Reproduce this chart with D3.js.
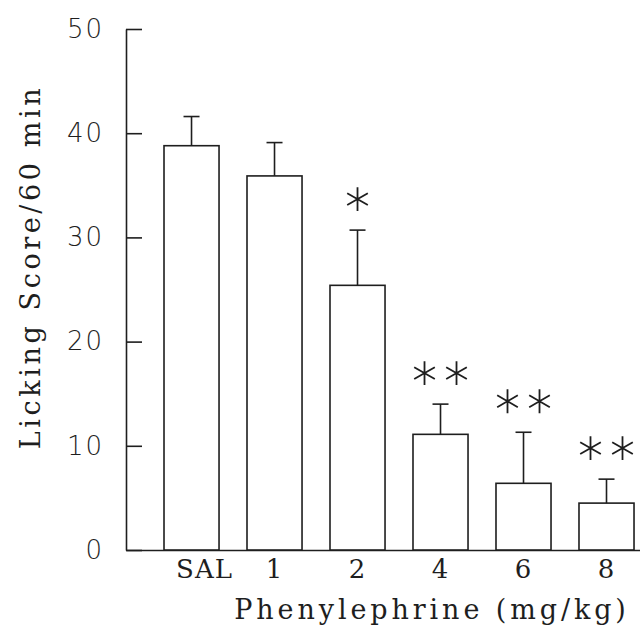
<!DOCTYPE html>
<html>
<head>
<meta charset="utf-8">
<script src="https://cdn.jsdelivr.net/npm/d3@7"></script>
<style>
  body { margin: 0; background: #fff; }
  svg { display: block; }
</style>
</head>
<body>
<div id="chart"></div>
<script>
// doses and licking scores
var doses = ["SAL", "1", "2", "4", "6", "8"];
var means = [38.8, 35.9, 25.4, 11.1, 6.4, 4.5];
var sems = [2.8, 3.2, 5.3, 2.9, 4.9, 2.3];
var stars = [0, 0, 1, 2, 2, 2];
var yTicks = [0, 10, 20, 30, 40, 50];

var width = 640, height = 625;
var ink = "#1e1e1e";

var svg = d3.select("#chart").append("svg")
    .attr("width", width)
    .attr("height", height);

// scales
var x = d3.scaleBand()
    .domain(doses)
    .range([126, 640])
    .paddingInner(0.337)
    .paddingOuter(0.265)
    .align(0.864);

var y = d3.scaleLinear()
    .domain([0, 50])
    .range([550, 29]);

// y axis, ticks point inward
var yAxis = svg.append("g")
    .attr("transform", "translate(" + x.range()[0] + ",0)")
    .call(d3.axisLeft(y).tickValues(yTicks).tickSizeInner(-16).tickSizeOuter(0).tickPadding(22));
yAxis.select(".domain").attr("stroke", ink).attr("stroke-width", 1.6);
yAxis.selectAll(".tick line").attr("stroke", ink).attr("stroke-width", 1.6);
yAxis.selectAll(".tick text")
    .attr("fill", ink)
    .style("font-family", "'DejaVu Sans', sans-serif")
    .style("font-weight", 200)
    .style("font-size", "26px")
    .style("letter-spacing", "2px");

// x axis
var xAxis = svg.append("g")
    .attr("transform", "translate(0," + y(0) + ")")
    .call(d3.axisBottom(x).tickSize(0).tickPadding(10));
xAxis.select(".domain").attr("stroke", ink).attr("stroke-width", 1.6);
xAxis.selectAll(".tick text")
    .attr("fill", ink)
    .attr("dx", function(d) { return d === "SAL" ? 13 : 0; })
    .style("font-family", "'DejaVu Serif', serif")
    .style("font-size", "26px")
    .style("letter-spacing", "1px");

// bars
svg.selectAll(".bar")
    .data(doses)
    .enter()
    .append("rect")
    .attr("class", "bar")
    .attr("x", function(d) { return x(d); })
    .attr("y", function(d, i) { return y(means[i]); })
    .attr("width", x.bandwidth())
    .attr("height", function(d, i) { return y(0) - y(means[i]); })
    .attr("fill", "#fff")
    .attr("stroke", ink)
    .attr("stroke-width", 1.6);

// error bars (upper half only)
var err = svg.selectAll(".err")
    .data(doses)
    .enter()
    .append("g")
    .attr("class", "err")
    .attr("stroke", ink)
    .attr("stroke-width", 1.6);
err.append("line")
    .attr("x1", function(d) { return x(d) + x.bandwidth() / 2; })
    .attr("x2", function(d) { return x(d) + x.bandwidth() / 2; })
    .attr("y1", function(d, i) { return y(means[i]); })
    .attr("y2", function(d, i) { return y(means[i] + sems[i]); });
err.append("line")
    .attr("x1", function(d) { return x(d) + x.bandwidth() / 2 - 8; })
    .attr("x2", function(d) { return x(d) + x.bandwidth() / 2 + 8; })
    .attr("y1", function(d, i) { return y(means[i] + sems[i]); })
    .attr("y2", function(d, i) { return y(means[i] + sems[i]); });

// significance asterisks
var starData = [];
doses.forEach(function(d, i) {
    for (var k = 0; k < stars[i]; k++) {
        starData.push({ dose: d, i: i, off: stars[i] === 1 ? 0 : (k === 0 ? -16 : 16) });
    }
});
var asterisk = d3.symbol().type(d3.symbolAsterisk || d3.symbolCross).size(400);
svg.selectAll(".star")
    .data(starData)
    .enter()
    .append("path")
    .attr("class", "star")
    .attr("d", asterisk)
    .attr("transform", function(s) {
        return "translate(" + (x(s.dose) + x.bandwidth() / 2 + s.off) + "," + (y(means[s.i] + sems[s.i]) - 31) + ")";
    })
    .attr("fill", "none")
    .attr("stroke", ink)
    .attr("stroke-width", 1.8);

// axis titles
svg.append("text")
    .attr("x", 432)
    .attr("y", 619)
    .attr("text-anchor", "middle")
    .attr("fill", ink)
    .style("font-family", "'DejaVu Serif', serif")
    .style("font-size", "27px")
    .style("letter-spacing", "3.9px")
    .text("Phenylephrine (mg/kg)");

svg.append("text")
    .attr("transform", "translate(40,267) rotate(-90)")
    .attr("text-anchor", "middle")
    .attr("fill", ink)
    .style("font-family", "'DejaVu Serif', serif")
    .style("font-size", "27px")
    .style("letter-spacing", "3.6px")
    .text("Licking Score/60 min");
</script>
</body>
</html>
